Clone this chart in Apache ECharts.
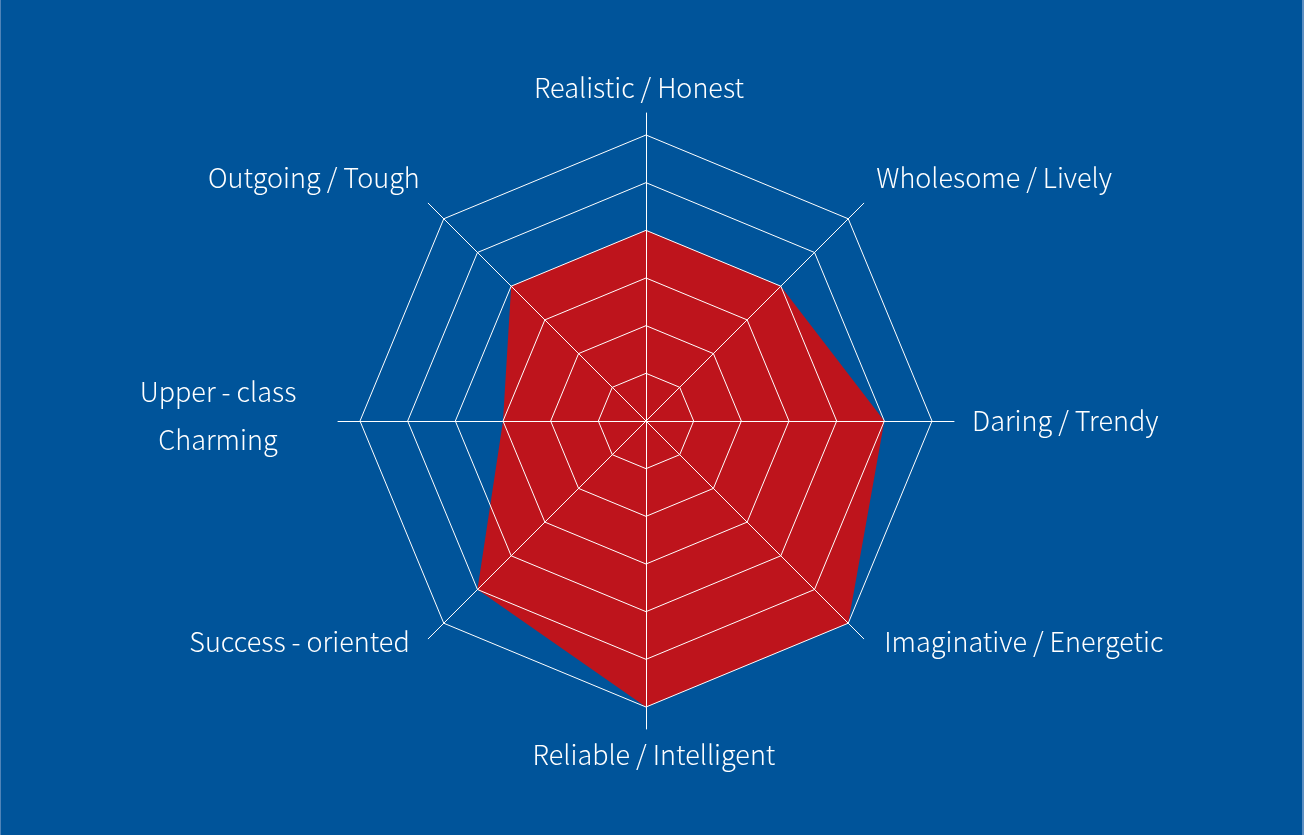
<!DOCTYPE html>
<html>
<head>
<meta charset="utf-8">
<script src="https://cdn.jsdelivr.net/npm/echarts@6/dist/echarts.min.js"></script>
<style>
  html, body { margin: 0; padding: 0; background: #00549a; }
  #main { width: 1304px; height: 835px; box-sizing: border-box; border-left: 1px solid #4f83b8; border-right: 2px solid #5c8fc2; }
</style>
</head>
<body>
<div id="main"></div>
<script>
// data (indicators go counter-clockwise from the top)
const names  = ["Realistic / Honest", "Outgoing / Tough", "Upper - class\nCharming", "Success - oriented",
                "Reliable / Intelligent", "Imaginative / Energetic", "Daring / Trendy", "Wholesome / Lively"]
const scores = [4, 4, 3, 5, 6, 6, 5, 4]
const maxScore = 6

const font = { color: "#ffffff", fontSize: 27, fontWeight: 300, fontFamily: "Noto Sans CJK KR" }

// small per-label nudges, keyed by the label position
const richKey = {
  "Realistic / Honest": "t",
  "Reliable / Intelligent": "b",
  "Outgoing / Tough": "ul",
  "Wholesome / Lively": "ur",
  "Daring / Trendy": "r",
  "Imaginative / Energetic": "lr",
  "Success - oriented": "ll"
}

const indicators = names.map(n => ({ name: n, max: maxScore }))

const chartContainer = document.getElementById("main")
const myChart = echarts.init(chartContainer)

const options = {
  backgroundColor: "#00549a",
  radar: [
    {
      // outer radar: only the long spokes and the names
      center: [645, 421],
      radius: 308,
      indicator: indicators,
      splitNumber: 6,
      shape: "polygon",
      nameGap: 12,
      axisName: {
        ...font,
        formatter: name => {
          if (name.indexOf("\n") >= 0) {
            const parts = name.split("\n")
            return "{w|" + parts[0] + "}\n{wl|" + parts[1] + "}"
          }
          const k = richKey[name]
          return k ? "{" + k + "|" + name + "}" : name
        },
        rich: {
          t:  { ...font, padding: [0, 14, 0, 0] },
          b:  { ...font, padding: [0, 0, 0, 16] },
          w:  { ...font, width: 216, align: "center", lineHeight: 38 },
          wl: { ...font, width: 216, align: "center", lineHeight: 58 },
          ul: { ...font, padding: [0, 0, 34, 0] },
          ur: { ...font, padding: [0, 0, 34, 4] },
          r:  { ...font, padding: [0, 0, 0, 6] },
          lr: { ...font, padding: [0, 0, 12, 12] },
          ll: { ...font, padding: [0, 10, 12, 0] }
        }
      },
      axisLine: { lineStyle: { color: "#ffffff", width: 1 } },
      splitLine: { show: false },
      splitArea: { show: false },
      axisTick: { show: false },
      axisLabel: { show: false }
    },
    {
      // inner radar: the rings, drawn above the red area
      center: [645, 421],
      radius: 286,
      z: 3,
      indicator: indicators,
      splitNumber: 6,
      shape: "polygon",
      axisName: { show: false },
      axisLine: { lineStyle: { color: "#ffffff", width: 1 } },
      splitLine: { lineStyle: { color: "#ffffff", width: 1 } },
      splitArea: { show: false }
    }
  ],
  series: [
    {
      type: "radar",
      radarIndex: 1,
      z: 1,
      symbol: "none",
      silent: true,
      lineStyle: { width: 0 },
      areaStyle: { color: "#be141c", opacity: 1 },
      data: [{ value: scores }]
    }
  ]
}

myChart.setOption(options)
window.onresize = () => myChart.resize()
</script>
</body>
</html>
